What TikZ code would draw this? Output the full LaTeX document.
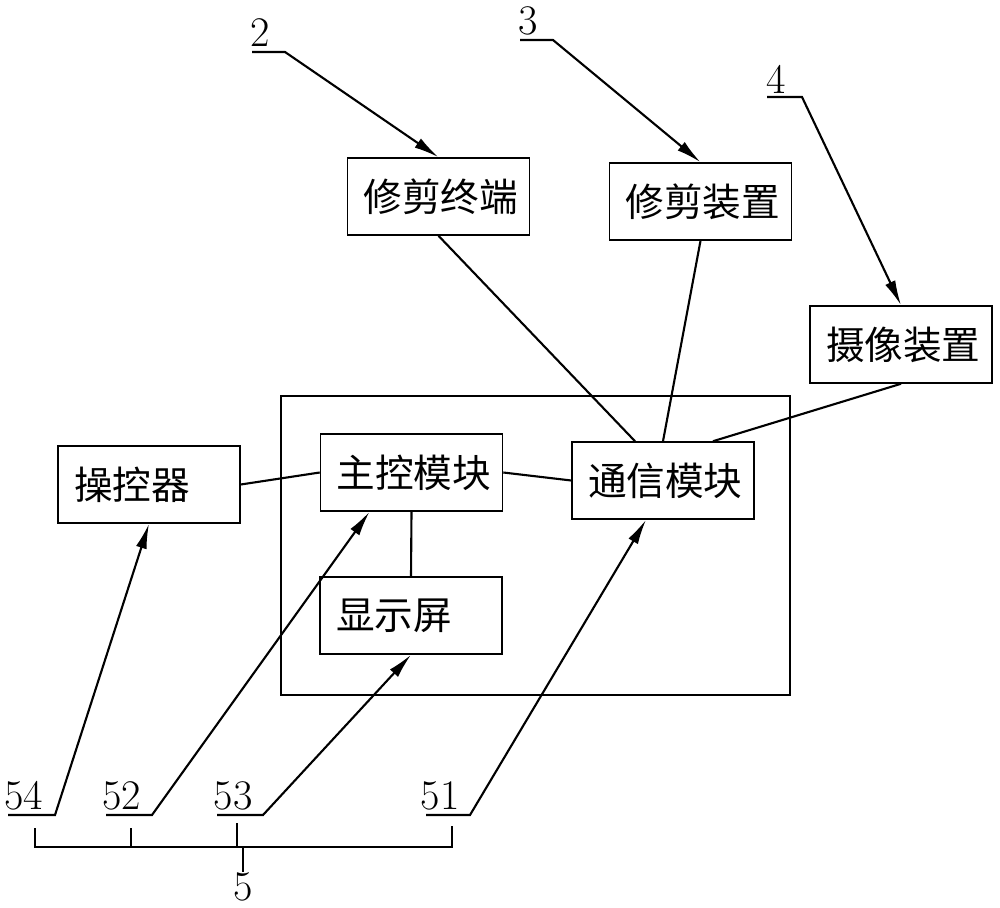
\documentclass[tikz,border=0pt]{standalone}
\usepackage{fontspec}
\newfontfamily\cjk{Noto Sans CJK SC}
\usetikzlibrary{arrows.meta,calc}

\begin{document}
\begin{tikzpicture}[x=0.02cm,y=-0.02cm,
  blk/.style={draw,line width=0.9pt,minimum height=1.54cm,text width=3.0cm,inner xsep=0.32cm,align=center,font=\cjk\fontsize{22}{26}\selectfont},
  lblk/.style={blk,align=left},
  num/.style={font=\fontsize{24}{28}\selectfont,inner sep=0pt},
  lead/.style={line width=1.2pt,-{Latex[length=0.5cm,width=0.22cm]}},
  wire/.style={line width=1.2pt}]
\useasboundingbox (0,0) rectangle (1000,908);
\draw [line width=0.9pt] (281,396) rectangle (790,695);
\node [blk] (term) at (438.5,196.5) {修剪终端};
\node [blk] (dev) at (700.5,201.5) {修剪装置};
\node [blk] (cam) at (901,344.5) {摄像装置};
\node [lblk] (ctl) at (149,484.5) {操控器};
\node [blk] (main) at (411.5,472.5) {主控模块};
\node [blk] (com) at (663,480.5) {通信模块};
\node [lblk] (disp) at (411,615.5) {显示屏};
\node [num] (n2) at (260,33) {2};
\node [num] (n3) at (528,21) {3};
\node [num] (n4) at (776,79) {4};
\node [num] (n54) at (24,796) {54};
\node [num] (n52) at (121.5,796) {52};
\node [num] (n53) at (233,796) {53};
\node [num] (n51) at (440,796) {51};
\node [num] (n5) at (243,887) {5};
\coordinate (a2) at (252,52); \coordinate (b2) at (285,52);
\coordinate (a3) at (520,40); \coordinate (b3) at (553,40);
\coordinate (a4) at (767,97); \coordinate (b4) at (802,97);
\coordinate (a54) at (8,815); \coordinate (b54) at (55,815);
\coordinate (a52) at (106,815); \coordinate (b52) at (152,815);
\coordinate (a53) at (217,815); \coordinate (b53) at (263,815);
\coordinate (a51) at (426,815); \coordinate (b51) at (470,815);
\draw [wire] (ctl.east)--(main.west);
\draw [wire] (main.east)--(com.west);
\draw [wire] (main.south)--(disp.north);
\draw [wire] (term.south)--($(com.north)+(-28,0)$);
\draw [wire] (dev.south)--(com.north);
\draw [wire] (cam.south)--($(com.north)+(50,0)$);
\draw [lead] (a2)--(b2)--(term.north);
\draw [lead] (a3)--(b3)--(dev.north);
\draw [lead] (a4)--(b4)--(cam.north);
\draw [lead] (a54)--(b54)--(ctl.south);
\draw [lead] (a52)--(b52)--($(main.south)+(-42,0)$);
\draw [lead] (a53)--(b53)--(disp.south);
\draw [lead] (a51)--(b51)--($(com.south)+(-17,0)$);
\draw [wire] (35,828)--(35,847)--(452,847)--(452,826);
\draw [wire] (131,828)--(131,847);
\draw [wire] (237,823)--(237,847);
\draw [wire] (243,847)--(n5.north);
\end{tikzpicture}
\end{document}
